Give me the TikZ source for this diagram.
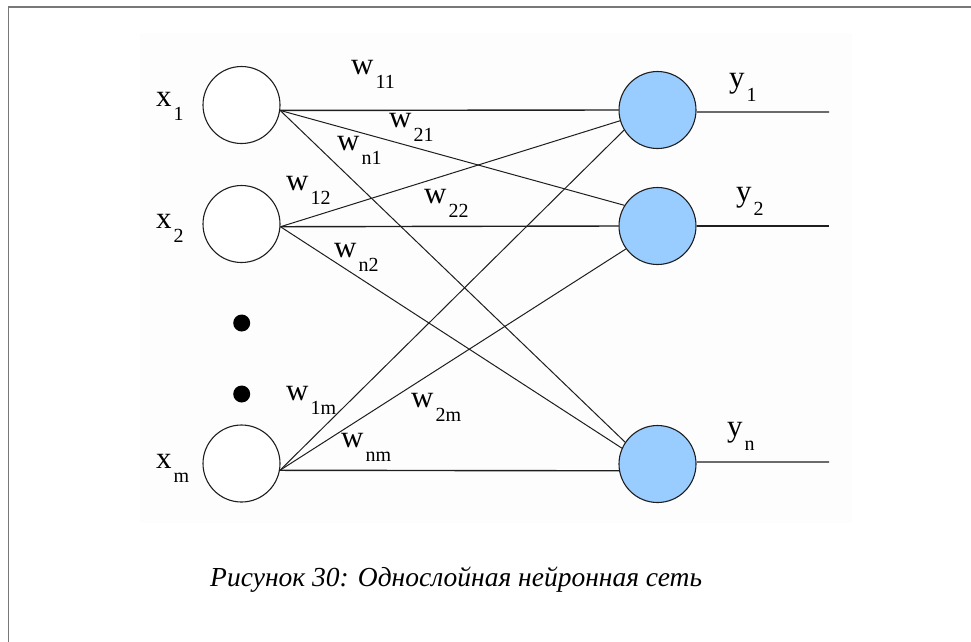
\documentclass[tikz,border=0pt]{standalone}
\usepackage{fontspec}
\setmainfont{Liberation Serif}
\definecolor{edgegray}{RGB}{30,30,30}
\definecolor{framegray}{RGB}{120,120,120}
\definecolor{bgfaint}{RGB}{253,253,253}
\definecolor{neuronblue}{RGB}{153,204,255}
\newcommand\lblsub[2]{#1\kern2pt\raisebox{-14pt}{\fontsize{20}{24}\selectfont #2}}
\tikzset{
  inneuron/.style={circle,draw=edgegray,line width=1.1pt,fill=white,minimum size=77pt,inner sep=0pt},
  outneuron/.style={circle,draw=edgegray,line width=1.1pt,fill=neuronblue,minimum size=77pt,inner sep=0pt},
  dotnode/.style={circle,fill=black,minimum size=17pt,inner sep=0pt},
  hedge/.style={draw=edgegray,line width=1.4pt},
  dedge/.style={draw=edgegray,line width=1.0pt},
  lbl/.style={anchor=base west,inner sep=0pt,font=\fontsize{31}{36}\selectfont},
  caption/.style={anchor=base west,inner sep=0pt,font=\fontsize{27.5}{33}\selectfont\itshape}
}
\begin{document}
\begin{tikzpicture}[x=1pt,y=-1pt]
\useasboundingbox (0,0) rectangle (971,641);
\fill[white] (0,0) rectangle (971,641);
\draw[framegray,line width=1.5pt] (8.5,645) -- (8.5,7) -- (975,7);
\fill[bgfaint] (140,33) rectangle (852,523);

% input neurons
\node[inneuron] (x1) at (241.5,105) {};
\node[inneuron] (x2) at (241.5,224) {};
\node[inneuron] (xm) at (241.5,463.5) {};
\node[dotnode] (d1) at (241.7,323) {};
\node[dotnode] (d2) at (241.7,394) {};

% output neurons
\node[outneuron] (y1) at (657.5,110) {};
\node[outneuron] (y2) at (657.5,226) {};
\node[outneuron] (yn) at (657.5,464) {};

\coordinate (o1) at (829,112);
\coordinate (o2) at (829,226);
\coordinate (on) at (829,462);

% connections
\draw[hedge] (x1.352) -- (y1.west);
\draw[dedge] (x1.352) -- (y2.148);
\draw[dedge] (x1.352) -- (yn.146);
\draw[dedge] (x2.356) -- (y1.196);
\draw[hedge] (x2.356) -- (y2.west);
\draw[dedge] (x2.356) -- (yn.156);
\draw[dedge] (xm.350) -- (y1.211);
\draw[dedge] (xm.350) -- (y2.216);
\draw[hedge] (xm.350) -- (yn.190);

% outputs
\draw[hedge] (y1.357) -- (o1);
\draw[hedge] (y2.east) -- (o2);
\draw[hedge] (yn.3) -- (on);

% labels
\node[lbl] (lx1) at (156,106) {\lblsub{x}{1}};
\node[lbl] (lx2) at (156,228) {\lblsub{x}{2}};
\node[lbl] (lxm) at (156,468) {\lblsub{x}{m}};

\node[lbl] (lw11) at (351,74) {\lblsub{w}{11}};
\node[lbl] (lw21) at (389,127) {\lblsub{w}{21}};
\node[lbl] (lwn1) at (337,150) {\lblsub{w}{n1}};
\node[lbl] (lw12) at (286,190) {\lblsub{w}{12}};
\node[lbl] (lw22) at (424,203) {\lblsub{w}{22}};
\node[lbl] (lwn2) at (334,257) {\lblsub{w}{n2}};
\node[lbl] (lw1m) at (286,400) {\lblsub{w}{1m}};
\node[lbl] (lw2m) at (411,407) {\lblsub{w}{2m}};
\node[lbl] (lwnm) at (341,447) {\lblsub{w}{nm}};

\node[lbl] (ly1) at (729,87) {\lblsub{y}{1}};
\node[lbl] (ly2) at (736,201) {\lblsub{y}{2}};
\node[lbl] (lyn) at (727,436) {\lblsub{y}{n}};

\node[caption] (cap) at (210,586) {Рисунок 30: Однослойная нейронная сеть};
\end{tikzpicture}
\end{document}
